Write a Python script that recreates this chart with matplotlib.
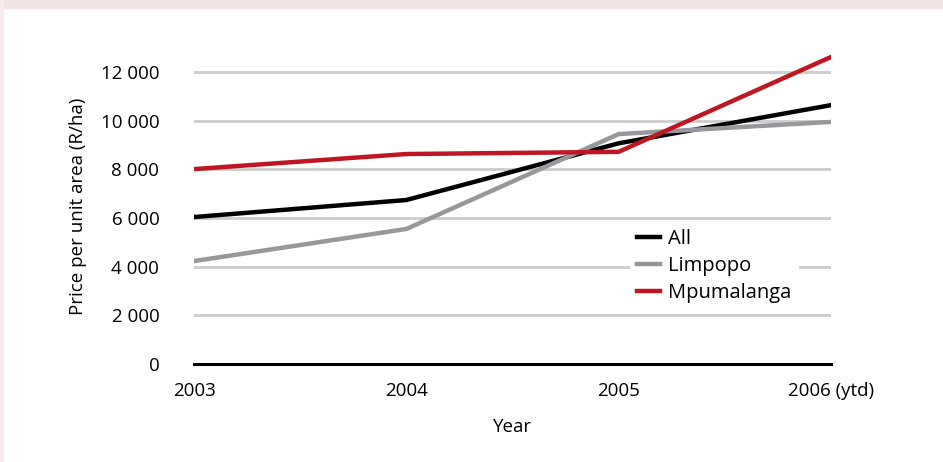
import matplotlib.pyplot as plt
from matplotlib.patches import Rectangle
from matplotlib.ticker import FuncFormatter

# Data
years = [2003, 2004, 2005, 2006]
year_labels = ['2003', '2004', '2005', '2006 (ytd)']
all_prices = [6040, 6740, 9070, 10640]
limpopo = [4230, 5550, 9450, 9950]
mpumalanga = [8010, 8630, 8720, 12620]

plt.rcParams['font.family'] = ['Open Sans', 'DejaVu Sans']

fig = plt.figure(figsize=(9.43, 4.62), dpi=100)

# pink frame along the top and left edge
fig.patches.append(Rectangle((0, 1 - 8 / 462), 1, 8 / 462, transform=fig.transFigure,
                             color='#f5e4e6', zorder=0))
fig.patches.append(Rectangle((0, 0), 3 / 943, 1, transform=fig.transFigure,
                             color='#f8eced', zorder=0))

ax = fig.add_axes([194 / 943, 1 - 364 / 462, (831 - 194) / 943, (364 - 47.7) / 462])

ax.plot(years, all_prices, color='black', lw=3.2, label='All', zorder=3)
ax.plot(years, limpopo, color='#98989c', lw=3.2, label='Limpopo', zorder=3)
ax.plot(years, mpumalanga, color='#be1622', lw=3.2, label='Mpumalanga', zorder=3)

ax.set_xlim(2003, 2006)
ax.set_ylim(0, 13000)
ax.set_yticks(range(0, 12001, 2000))
ax.yaxis.set_major_formatter(FuncFormatter(lambda v, p: f'{int(v):,}'.replace(',', ' ')))
ax.set_xticks(years)
ax.set_xticklabels(year_labels)

for y in range(2000, 12001, 2000):
    ax.axhline(y, color='#cccccc', lw=2, zorder=1)
ax.axhline(0, color='black', lw=2.2, zorder=2, clip_on=False)

for s in ax.spines.values():
    s.set_visible(False)
ax.tick_params(length=0, labelsize=13.5)
ax.tick_params(axis='y', pad=25)
ax.tick_params(axis='x', pad=13)

ax.set_xlabel('Year', fontsize=13.5, labelpad=13)
ax.set_ylabel('Price per unit area (R/ha)', fontsize=13.5, labelpad=10)

leg = ax.legend(loc='upper left', bbox_to_anchor=((630 - 194) / 637, 1 - (222 - 47.7) / 316.3),
                frameon=True, fontsize=14.5, handlelength=1.15, handletextpad=0.4,
                labelspacing=0.35, borderpad=0.35, borderaxespad=0)
leg.get_frame().set_edgecolor('none')
leg.get_frame().set_facecolor('white')
leg.get_frame().set_alpha(1)
leg.set_zorder(2.5)

fig.savefig('out.png', dpi=100)
